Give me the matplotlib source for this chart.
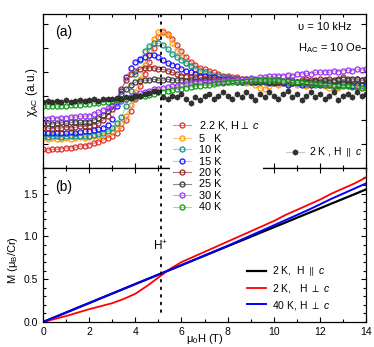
import numpy as np
import matplotlib
matplotlib.use("Agg")
import matplotlib.pyplot as plt
from matplotlib.ticker import MultipleLocator

plt.rcParams['font.family'] = ['Liberation Sans', 'DejaVu Sans']
plt.rcParams['mathtext.fontset'] = 'custom'
plt.rcParams['mathtext.rm'] = 'Liberation Sans'
plt.rcParams['mathtext.it'] = 'Liberation Sans:italic'
plt.rcParams['mathtext.default'] = 'regular'
plt.rcParams['mathtext.fallback'] = 'stixsans'

# ---- panel (a): chi_AC (a.u.) vs field, field grid 0..14 T step 0.2 ----
H_ac = np.round(np.arange(0, 14.01, 0.2), 1)

chi_2K2 = [0.12, 0.115, 0.12, 0.12, 0.125, 0.13, 0.13, 0.135, 0.14, 0.145,
           0.15, 0.16, 0.17, 0.18, 0.195, 0.21, 0.23, 0.26, 0.31, 0.37,
           0.45, 0.53, 0.61, 0.69, 0.78, 0.85, 0.88, 0.87, 0.84, 0.80,
           0.76, 0.72, 0.69, 0.67, 0.65, 0.64, 0.63, 0.62, 0.61, 0.60,
           0.60, 0.59, 0.59, 0.58, 0.58, 0.57, 0.57, 0.56, 0.57, 0.56,
           0.56, 0.55, 0.56, 0.55, 0.55, 0.56, 0.55, 0.54, 0.55, 0.56,
           0.55, 0.54, 0.55, 0.54, 0.53, 0.54, 0.55, 0.53, 0.54, 0.53,
           0.54]
chi_5K = [0.195, 0.19, 0.195, 0.19, 0.19, 0.195, 0.19, 0.195, 0.2, 0.195,
          0.2, 0.205, 0.21, 0.215, 0.225, 0.24, 0.26, 0.29, 0.34, 0.41,
          0.49, 0.58, 0.67, 0.76, 0.84, 0.88, 0.89, 0.86, 0.81, 0.76,
          0.72, 0.68, 0.66, 0.64, 0.62, 0.61, 0.60, 0.59, 0.58, 0.58,
          0.57, 0.57, 0.56, 0.56, 0.55, 0.56, 0.54, 0.52, 0.51, 0.53,
          0.55, 0.54, 0.55, 0.54, 0.55, 0.54, 0.55, 0.53, 0.54, 0.55,
          0.54, 0.53, 0.52, 0.51, 0.52, 0.54, 0.53, 0.54, 0.53, 0.52,
          0.53]
chi_10K = [0.205, 0.2, 0.205, 0.205, 0.2, 0.205, 0.21, 0.205, 0.21, 0.21,
           0.21, 0.215, 0.22, 0.23, 0.24, 0.26, 0.29, 0.33, 0.40, 0.50,
           0.61, 0.70, 0.76, 0.79, 0.81, 0.81, 0.80, 0.77, 0.74, 0.72,
           0.70, 0.68, 0.66, 0.64, 0.63, 0.62, 0.61, 0.60, 0.60, 0.59,
           0.59, 0.58, 0.58, 0.57, 0.58, 0.57, 0.57, 0.56, 0.57, 0.56,
           0.56, 0.57, 0.56, 0.55, 0.56, 0.56, 0.55, 0.56, 0.55, 0.54,
           0.55, 0.56, 0.55, 0.54, 0.55, 0.54, 0.55, 0.54, 0.55, 0.54,
           0.55]
chi_15K = [0.225, 0.225, 0.23, 0.225, 0.23, 0.23, 0.235, 0.23, 0.235, 0.24,
           0.24, 0.245, 0.25, 0.26, 0.28, 0.32, 0.40, 0.50, 0.59, 0.65,
           0.69, 0.71, 0.72, 0.73, 0.73, 0.72, 0.70, 0.68, 0.67, 0.66,
           0.64, 0.63, 0.62, 0.61, 0.60, 0.60, 0.59, 0.59, 0.58, 0.58,
           0.58, 0.57, 0.57, 0.56, 0.57, 0.56, 0.56, 0.57, 0.56, 0.55,
           0.55, 0.56, 0.55, 0.54, 0.55, 0.55, 0.54, 0.55, 0.54, 0.55,
           0.54, 0.55, 0.54, 0.53, 0.54, 0.55, 0.54, 0.53, 0.54, 0.54,
           0.54]
chi_20K = [0.26, 0.26, 0.255, 0.26, 0.26, 0.265, 0.26, 0.265, 0.27, 0.27,
           0.275, 0.28, 0.29, 0.31, 0.34, 0.38, 0.44, 0.51, 0.57, 0.61,
           0.63, 0.64, 0.65, 0.65, 0.65, 0.64, 0.64, 0.63, 0.62, 0.61,
           0.60, 0.60, 0.59, 0.59, 0.59, 0.58, 0.58, 0.58, 0.58, 0.57,
           0.58, 0.57, 0.58, 0.57, 0.57, 0.58, 0.57, 0.57, 0.57, 0.56,
           0.57, 0.57, 0.56, 0.57, 0.57, 0.56, 0.57, 0.58, 0.57, 0.57,
           0.58, 0.57, 0.58, 0.57, 0.58, 0.59, 0.58, 0.57, 0.58, 0.57,
           0.57]
chi_25K = [0.29, 0.29, 0.285, 0.29, 0.295, 0.29, 0.295, 0.3, 0.295, 0.3,
           0.3, 0.31, 0.325, 0.345, 0.37, 0.40, 0.44, 0.48, 0.51, 0.54,
           0.555, 0.565, 0.57, 0.57, 0.575, 0.57, 0.57, 0.575, 0.57, 0.57,
           0.57, 0.565, 0.57, 0.565, 0.56, 0.57, 0.565, 0.56, 0.565, 0.56,
           0.56, 0.57, 0.56, 0.56, 0.565, 0.56, 0.555, 0.56, 0.565, 0.56,
           0.56, 0.555, 0.56, 0.565, 0.56, 0.555, 0.56, 0.555, 0.56, 0.565,
           0.56, 0.57, 0.56, 0.565, 0.57, 0.575, 0.57, 0.58, 0.575, 0.57,
           0.575]
chi_30K = [0.32, 0.32, 0.325, 0.32, 0.325, 0.325, 0.33, 0.33, 0.335, 0.335,
           0.34, 0.35, 0.36, 0.375, 0.39, 0.405, 0.42, 0.435, 0.45, 0.46,
           0.475, 0.485, 0.495, 0.50, 0.51, 0.515, 0.52, 0.525, 0.53, 0.535,
           0.54, 0.545, 0.55, 0.55, 0.555, 0.56, 0.56, 0.565, 0.565, 0.57,
           0.57, 0.575, 0.575, 0.58, 0.58, 0.585, 0.58, 0.59, 0.59, 0.595,
           0.595, 0.60, 0.60, 0.605, 0.60, 0.61, 0.61, 0.615, 0.61, 0.62,
           0.62, 0.625, 0.62, 0.63, 0.625, 0.63, 0.635, 0.63, 0.64, 0.635,
           0.64]
chi_40K = [0.40, 0.40, 0.405, 0.40, 0.405, 0.405, 0.41, 0.41, 0.41, 0.415,
           0.415, 0.42, 0.42, 0.425, 0.43, 0.435, 0.44, 0.445, 0.45, 0.455,
           0.46, 0.465, 0.47, 0.475, 0.48, 0.49, 0.495, 0.50, 0.505, 0.51,
           0.515, 0.52, 0.525, 0.53, 0.535, 0.54, 0.54, 0.545, 0.55, 0.55,
           0.555, 0.555, 0.56, 0.56, 0.565, 0.565, 0.57, 0.57, 0.57, 0.57,
           0.57, 0.57, 0.565, 0.565, 0.56, 0.56, 0.555, 0.55, 0.55, 0.545,
           0.545, 0.54, 0.54, 0.535, 0.535, 0.53, 0.53, 0.525, 0.525, 0.52,
           0.52]
chi_2K_par = [0.43, 0.435, 0.43, 0.435, 0.43, 0.44, 0.43, 0.435, 0.44, 0.435,
              0.44, 0.445, 0.435, 0.445, 0.45, 0.445, 0.455, 0.45, 0.46, 0.455,
              0.465, 0.47, 0.48, 0.485, 0.50, 0.49, 0.46, 0.45, 0.47, 0.46,
              0.48, 0.45, 0.42, 0.46, 0.44, 0.47, 0.48, 0.45, 0.47, 0.49,
              0.47, 0.45, 0.48, 0.46, 0.49, 0.47, 0.44, 0.48, 0.46, 0.49,
              0.47, 0.45, 0.48, 0.50, 0.46, 0.48, 0.44, 0.47, 0.49, 0.46,
              0.48, 0.45, 0.47, 0.49, 0.44, 0.47, 0.48, 0.46, 0.49, 0.47,
              0.48]

perp_series = [chi_2K2, chi_5K, chi_10K, chi_15K, chi_20K, chi_25K, chi_30K, chi_40K]
perp_labels = [r"2.2 K, H$\perp$ $\it{c}$", "5   K", "10 K", "15 K",
               "20 K", "25 K", "30 K", "40 K"]
marker_colors = ["#e0302c", "#ff9a00", "#138f8a", "#1414ff",
                 "#962828", "#3a3a3a", "#9a30ff", "#139a13"]
line_colors = ["#f08a8a", "#ffc680", "#9fd0cc", "#ffb4b4",
               "#b07474", "#8c8c8c", "#c8b890", "#a4d8a4"]

# ---- panel (b): magnetization ----
H_m = np.arange(0, 14.01, 0.5)
M_2K_par = [0, 0.055, 0.11, 0.166, 0.221, 0.277, 0.332, 0.387, 0.443, 0.498,
            0.553, 0.609, 0.664, 0.72, 0.775, 0.83, 0.886, 0.941, 0.996, 1.052,
            1.107, 1.162, 1.218, 1.273, 1.328, 1.384, 1.439, 1.494, 1.55]
M_2K_perp = [0, 0.035, 0.07, 0.11, 0.15, 0.185, 0.22, 0.27, 0.33, 0.42,
             0.52, 0.62, 0.70, 0.76, 0.82, 0.88, 0.94, 1.00, 1.06, 1.12,
             1.18, 1.25, 1.31, 1.37, 1.43, 1.50, 1.56, 1.62, 1.69]
M_40K_perp = [0, 0.056, 0.112, 0.168, 0.223, 0.279, 0.334, 0.39, 0.445, 0.5,
              0.555, 0.61, 0.665, 0.72, 0.778, 0.835, 0.89, 0.95, 1.01, 1.07,
              1.13, 1.19, 1.25, 1.31, 1.375, 1.44, 1.50, 1.56, 1.62]
H_plus = 5.1

fig = plt.figure(figsize=(3.74, 3.47), dpi=100)
ax1 = fig.add_axes([0.115, 0.516, 0.864, 0.444])
ax2 = fig.add_axes([0.115, 0.072, 0.864, 0.444], sharex=ax1)

# panel (a)
handles = []
for y, lab, mc, lc in zip(perp_series, perp_labels, marker_colors, line_colors):
    h, = ax1.plot(H_ac, y, '-', color=lc, lw=0.8, marker='o', ms=3.6,
                  mfc='none', mec=mc, mew=0.9, label=lab)
    handles.append(h)
hpar, = ax1.plot(H_ac, chi_2K_par, '-', color='#c8c8c8', lw=0.8, marker='h',
                 ms=3.8, mfc='#333333', mec='#222222', mew=0.6,
                 label=r"2 K , H $\parallel$ $\it{c}$")

ax1.axvline(H_plus, color='k', lw=1.3, ls=(0, (1, 3.2)), dash_capstyle='round')
ax1.set_xlim(0, 14)
ax1.set_ylim(0, 1)
ax1.set_yticks(np.arange(0, 1, 0.156))
ax1.tick_params(labelleft=False, labelbottom=False)
ax1.set_ylabel(r"$\chi_{AC}$ (a.u.)", fontsize=8.5, va='center')
ax1.yaxis.set_label_coords(-0.034, 0.49)
ax1.text(0.037, 0.88, "(a)", transform=ax1.transAxes, fontsize=10, va='center')
ax1.text(0.79, 0.915, "\u03c5 = 10 kHz", transform=ax1.transAxes, fontsize=8,
         va='center')
ax1.text(0.79, 0.78, "H$_{AC}$ = 10 Oe", transform=ax1.transAxes, fontsize=8,
         va='center')
ax1.legend(handles=[hpar], loc='center left', bbox_to_anchor=(0.735, 0.1),
           frameon=False, fontsize=7.5, handlelength=1.8, handletextpad=0.4,
           borderpad=0)

# panel (b)
ax2.plot(H_m, M_2K_par, color='k', lw=1.6, label=r"2 K,  H $\parallel$ $\it{c}$")
ax2.plot(H_m, M_2K_perp, color='#ff0000', lw=1.3, label=r"2 K,   H $\perp$ $\it{c}$")
ax2.plot(H_m, M_40K_perp, color='#0000ff', lw=1.4, label=r"40 K, H $\perp$ $\it{c}$")
ax2.plot([H_plus, H_plus], [0.12, 1.8], color='k', lw=1.3, ls=(0, (1, 3.2)),
         dash_capstyle='round')
ax2.text(H_plus, 0.89, "H$^{+}$", ha='center', va='center', fontsize=8.5,
         bbox=dict(facecolor='white', edgecolor='none', pad=1.0))
ax2.set_ylim(0, 1.8)
ax2.set_xlim(0, 14)
ax2.xaxis.set_major_locator(MultipleLocator(2))
ax2.xaxis.set_minor_locator(MultipleLocator(1))
ax2.yaxis.set_major_locator(MultipleLocator(0.5))
ax2.yaxis.set_minor_locator(MultipleLocator(0.1))
ax2.set_xlabel(r"$\mu_0$H (T)", fontsize=8, va='center')
ax2.xaxis.set_label_coords(0.5, -0.11)
ax2.set_ylabel(r"M ($\mu_B$/Cr)", fontsize=8, va='center')
ax2.yaxis.set_label_coords(-0.093, 0.40)
ax2.text(0.037, 0.877, "(b)", transform=ax2.transAxes, fontsize=10, va='center')
ax2.legend(loc='center left', bbox_to_anchor=(0.615, 0.22), frameon=False,
           fontsize=7.5, handlelength=1.8, handletextpad=0.6, borderpad=0,
           labelspacing=0.35)

for ax in (ax1, ax2):
    ax.tick_params(which='both', direction='in', top=True, right=True,
                   labelsize=7.5, width=0.8)
    ax.tick_params(which='major', length=3.5)
    ax.tick_params(which='minor', length=2)
    for s in ax.spines.values():
        s.set_linewidth(0.9)

# big legend of panel (a) straddles both panels, drawn on the figure
fig.legend(handles=handles, loc='center left', bbox_to_anchor=(0.455, 0.522),
           frameon=True, facecolor='white', edgecolor='none', framealpha=1,
           fontsize=7.8, handlelength=1.6, handletextpad=0.8,
           labelspacing=0.13, borderpad=0.3, borderaxespad=0)

fig.savefig("out.png", dpi=100)
